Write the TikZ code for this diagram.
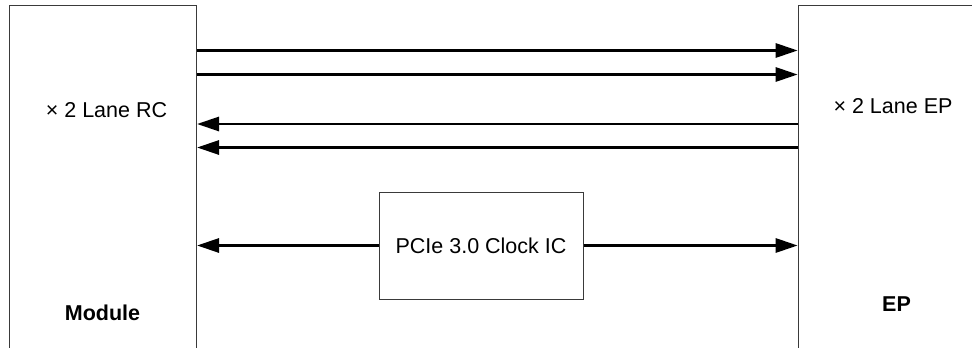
\documentclass[tikz,border=0pt]{standalone}
\usepackage{fontspec}
\setmainfont{Liberation Sans}
\usetikzlibrary{arrows.meta,positioning,calc}
\definecolor{edge}{HTML}{3A3A3A}

\begin{document}
\begin{tikzpicture}[
  x=1pt,y=-1pt,
  every node/.append style={font=\fontsize{21.5}{25}\selectfont},
  blockbox/.style={draw=edge, line width=1pt, inner sep=0pt, anchor=north west},
  lane/.style={line width=2.9pt, -{Triangle[length=22pt,width=14pt]}},
]
\useasboundingbox (0,0) rectangle (972,348);
\clip (0,0) rectangle (972,348);
% --- the two end boxes (cut by the page edge) ---
\node[blockbox, minimum width=187.5pt, minimum height=420pt] (rc) at (8.5,4.7) {};
\node[blockbox, minimum width=220pt, minimum height=420pt] (ep) at (797.7,4.6) {};
\node at (106.5,110) {× 2 Lane RC};
\node[font=\fontsize{21.5}{25}\selectfont\bfseries] at (102.5,312.5) {Module};
\node at (893,106) {× 2 Lane EP};
\node[font=\fontsize{21.5}{25}\selectfont\bfseries] at (896.5,304) {EP};
% --- clock source ---
\node[draw=edge, line width=1pt, minimum width=204pt, minimum height=107pt, inner sep=0pt] (clk) at (481,245.5) {PCIe 3.0 Clock IC};
% --- lanes: two down, two up ---
\foreach \y in {50.5,74.5} {
  \draw[lane] (rc.east |- 0,\y) -- (ep.west |- 0,\y);
}
\foreach \y in {124,147.5} {
  \draw[lane] (ep.west |- 0,\y) -- (rc.east |- 0,\y);
}
% --- reference clock to both ends ---
\draw[lane] (clk.west) -- (clk.west -| rc.east);
\draw[lane] (clk.east) -- (clk.east -| ep.west);
\end{tikzpicture}
\end{document}
